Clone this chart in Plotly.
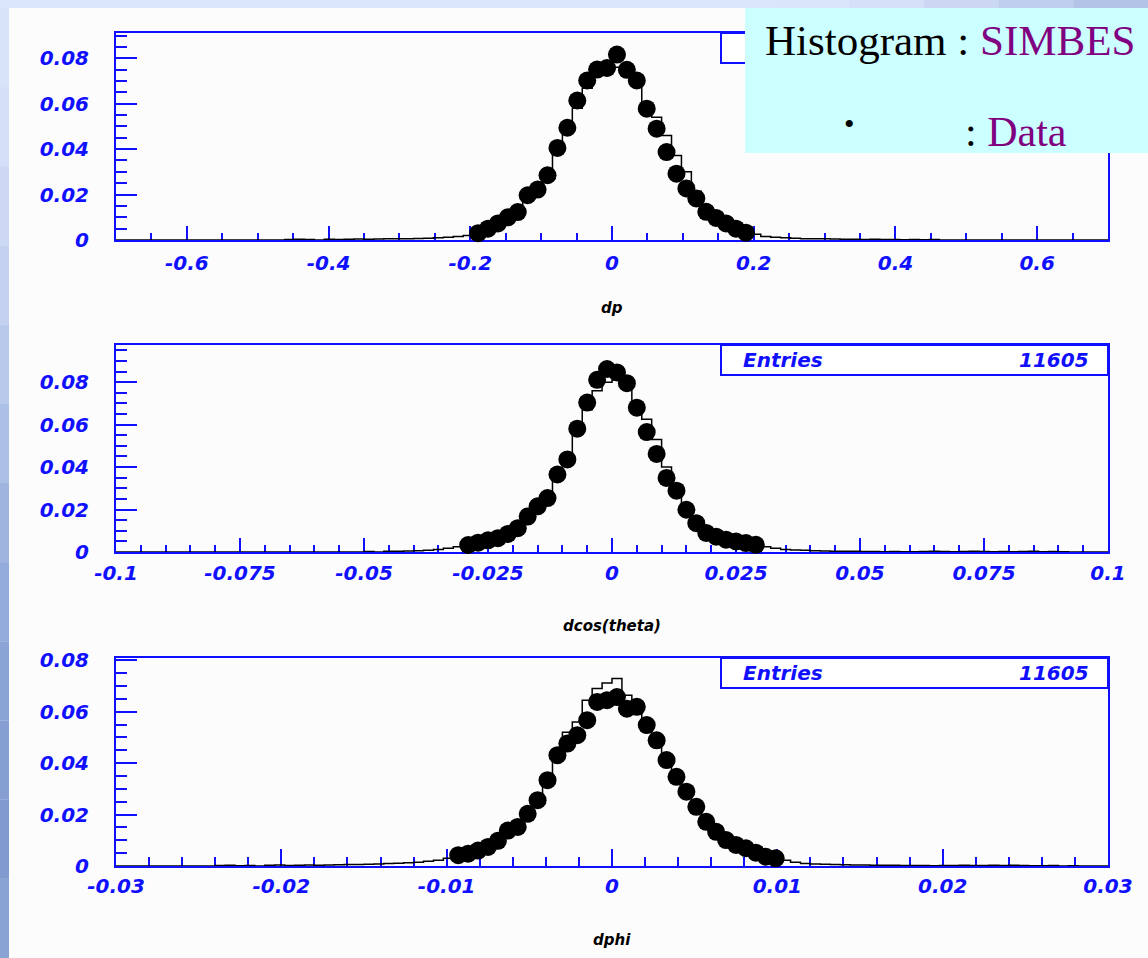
import numpy as np
import plotly.graph_objects as go

W, H = 1148, 958
BLUE = "#1010ff"

# ---------------- data ----------------
# panel 1 : dp   (100 bins on [-0.7, 0.7])
dp_range = (-0.7, 0.7)
dp_nbins = 100
dp_pts_first = 36
dp_pts = [0.0030, 0.0050, 0.0073, 0.0100, 0.0123, 0.0197, 0.0222, 0.0285, 0.0405, 0.0494,
          0.0614, 0.0702, 0.0750, 0.0757, 0.0816, 0.0749, 0.0702, 0.0578, 0.0490, 0.0387,
          0.0292, 0.0227, 0.0183, 0.0124, 0.0097, 0.0073, 0.0050, 0.0032]
dp_hist_first = 17
dp_hist = [0.0002, 0.0003, 0.0002, 0.0, 0.0003, 0.0002, 0.0003, 0.0004, 0.0003, 0.0004,
           0.0005, 0.0005, 0.0006, 0.0007, 0.0008, 0.0010, 0.0012, 0.0015, 0.0020,
           0.0030, 0.0048, 0.0070, 0.0098, 0.0125, 0.0180, 0.0225, 0.0290, 0.0400, 0.0500,
           0.0580, 0.0668, 0.0730, 0.0745, 0.0760, 0.0740, 0.0690, 0.0590, 0.0540, 0.0460,
           0.0372, 0.0300, 0.0215, 0.0150, 0.0110, 0.0080, 0.0058, 0.0040,
           0.0025, 0.0015, 0.0012, 0.0010, 0.0008, 0.0006, 0.0005, 0.0005, 0.0004, 0.0003,
           0.0003, 0.0002, 0.0003, 0.0002, 0.0002, 0.0001, 0.0002, 0.0001, 0.0002]

# panel 2 : dcos(theta)   (100 bins on [-0.1, 0.1])
dc_range = (-0.1, 0.1)
dc_nbins = 100
dc_pts_first = 35
dc_pts = [0.0033, 0.0044, 0.0055, 0.0065, 0.0085, 0.0112, 0.0167, 0.0215, 0.0254, 0.0365,
          0.0436, 0.0581, 0.0704, 0.0811, 0.0862, 0.0846, 0.0795, 0.0680, 0.0565, 0.0462,
          0.0349, 0.0289, 0.0199, 0.0136, 0.0090, 0.0072, 0.0058, 0.0050, 0.0042, 0.0034]
dc_hist_first = 25
dc_hist = [0.0002, 0.0, 0.0003, 0.0004, 0.0005, 0.0006, 0.0008, 0.0012, 0.0018, 0.0025,
           0.0035, 0.0042, 0.0052, 0.0063, 0.0085, 0.0115, 0.0160, 0.0210, 0.0260, 0.0360,
           0.0440, 0.0578, 0.0670, 0.0759, 0.0800, 0.0810, 0.0800, 0.0696, 0.0625, 0.0530,
           0.0400, 0.0300, 0.0215, 0.0150, 0.0100, 0.0080, 0.0062, 0.0052, 0.0043, 0.0035,
           0.0025, 0.0018, 0.0012, 0.0010, 0.0008, 0.0006, 0.0005, 0.0004, 0.0003, 0.0003,
           0.0002, 0.0002, 0.0001, 0.0002, 0.0001, 0.0001, 0.0002, 0.0003, 0.0002, 0.0001,
           0.0002, 0.0003, 0.0002, 0.0001, 0.0002, 0.0001, 0.0002, 0.0003, 0.0001, 0.0002,
           0.0001]

# panel 3 : dphi   (100 bins on [-0.03, 0.03])
dphi_range = (-0.03, 0.03)
dphi_nbins = 100
dphi_pts_first = 34
dphi_pts = [0.0042, 0.0048, 0.0060, 0.0074, 0.0098, 0.0138, 0.0152, 0.0203, 0.0256, 0.0334,
            0.0431, 0.0476, 0.0509, 0.0567, 0.0638, 0.0645, 0.0657, 0.0612, 0.0619, 0.0548,
            0.0489, 0.0412, 0.0347, 0.0289, 0.0230, 0.0172, 0.0133, 0.0101, 0.0082, 0.0069,
            0.0052, 0.0036, 0.0030]
dphi_hist_first = 10
dphi_hist = [0.0002, 0.0003, 0.0001, 0.0002, 0.0, 0.0003, 0.0004, 0.0002, 0.0003, 0.0004,
             0.0003, 0.0004, 0.0005, 0.0006, 0.0006, 0.0007, 0.0008, 0.0010, 0.0011, 0.0013,
             0.0015, 0.0018, 0.0022, 0.0030,
             0.0040, 0.0046, 0.0058, 0.0072, 0.0098, 0.0130, 0.0155, 0.0200, 0.0262, 0.0330,
             0.0420, 0.0520, 0.0560, 0.0645, 0.0690, 0.0712, 0.0729, 0.0664, 0.0630, 0.0560,
             0.0490, 0.0410, 0.0335, 0.0270, 0.0210, 0.0160, 0.0125, 0.0095, 0.0075, 0.0058,
             0.0045, 0.0035, 0.0025,
             0.0022, 0.0015, 0.0010, 0.0008, 0.0007, 0.0006, 0.0005, 0.0004, 0.0004, 0.0003,
             0.0003, 0.0003, 0.0002, 0.0002, 0.0002, 0.0001, 0.0002, 0.0002, 0.0003, 0.0002,
             0.0002, 0.0003, 0.0002, 0.0003, 0.0002, 0.0001, 0.0001, 0.0002, 0.0, 0.0001,
             0.0, 0.0, 0.0]

entries = "11605"
titles = ["dp", "dcos(theta)", "dphi"]
y_ticks = [0, 0.02, 0.04, 0.06, 0.08]
y_ticktext = ["0", "0.02", "0.04", "0.06", "0.08"]
dp_xticks = [-0.6, -0.4, -0.2, 0, 0.2, 0.4, 0.6]
dp_xtext = ["-0.6", "-0.4", "-0.2", "0", "0.2", "0.4", "0.6"]
dc_xticks = [-0.1, -0.075, -0.05, -0.025, 0, 0.025, 0.05, 0.075, 0.1]
dc_xtext = ["-0.1", "-0.075", "-0.05", "-0.025", "0", "0.025", "0.05", "0.075", "0.1"]
dphi_xticks = [-0.03, -0.02, -0.01, 0, 0.01, 0.02, 0.03]
dphi_xtext = ["-0.03", "-0.02", "-0.01", "0", "0.01", "0.02", "0.03"]


# ---------------- helpers ----------------
def px(x):
    return x / W


def py(y):
    return 1 - y / H


def bins(rng, n):
    edges = np.linspace(rng[0], rng[1], n + 1)
    centers = 0.5 * (edges[:-1] + edges[1:])
    return edges, centers


def full_hist(n, first, vals):
    arr = np.zeros(n)
    vals = np.asarray(vals, dtype=float)[: max(0, n - first)]
    arr[first:first + len(vals)] = vals
    return arr


fig = go.Figure()

panels = [
    dict(rng=dp_range, n=dp_nbins, pf=dp_pts_first, pts=dp_pts, hf=dp_hist_first, hist=dp_hist,
         ymax=0.0911, top=33, bot=240, xt=dp_xticks, xtt=dp_xtext, minor=0.05,
         xlen=14, xmlen=7, title_y=308, xstand=4),
    dict(rng=dc_range, n=dc_nbins, pf=dc_pts_first, pts=dc_pts, hf=dc_hist_first, hist=dc_hist,
         ymax=0.0975, top=345, bot=552, xt=dc_xticks, xtt=dc_xtext, minor=0.005,
         xlen=14, xmlen=7, title_y=626, xstand=2),
    dict(rng=dphi_range, n=dphi_nbins, pf=dphi_pts_first, pts=dphi_pts, hf=dphi_hist_first,
         hist=dphi_hist, ymax=0.0809, top=658, bot=866, xt=dphi_xticks, xtt=dphi_xtext,
         minor=0.002, xlen=17, xmlen=9, title_y=940, xstand=1),
]

tickfont = dict(family="DejaVu Sans", size=20, color=BLUE, weight="bold", style="italic")
x_dom = [px(116), px(1108)]

layout_axes = {}
annotations = []
shapes = []

# background: white panel and left/top gradient strips
shapes.append(dict(type="rect", xref="paper", yref="paper", x0=px(9), x1=1, y0=0, y1=py(8),
                   fillcolor="#fcfcfc", line=dict(width=0), layer="below"))
strip_cols = ["#d8e2f9", "#d4dff7", "#cdd9f4", "#c4d2f0", "#b8c9eb", "#acbfe6",
              "#9fb5e0", "#94acdb", "#8aa4d6", "#859fd2", "#7f9bd0", "#8aa3d5"]
nst = len(strip_cols)
for i, c in enumerate(strip_cols):
    y0 = 8 + (H - 8) * i / nst
    y1 = 8 + (H - 8) * (i + 1) / nst
    shapes.append(dict(type="rect", xref="paper", yref="paper", x0=0, x1=px(9),
                       y0=py(y1), y1=py(y0), fillcolor=c, line=dict(width=0), layer="below"))
top_cols = ["#dbe5fb", "#dae4fa", "#d6e0f8", "#ccd8f3", "#bfcdee", "#b3c3e8"]
for i, c in enumerate(top_cols):
    x0 = 700 + (W - 700) * i / len(top_cols)
    x1 = 700 + (W - 700) * (i + 1) / len(top_cols)
    shapes.append(dict(type="rect", xref="paper", yref="paper", x0=px(x0), x1=px(x1),
                       y0=py(8), y1=1, fillcolor=c, line=dict(width=0), layer="below"))

for i, p in enumerate(panels):
    idx = "" if i == 0 else str(i + 1)
    xa = "x" + idx
    ya = "y" + idx
    edges, centers = bins(p["rng"], p["n"])
    h = full_hist(p["n"], p["hf"], p["hist"])
    fig.add_trace(go.Scatter(x=edges, y=np.append(h, h[-1]), mode="lines",
                             line=dict(color="black", width=1.5, shape="hv"),
                             xaxis=xa, yaxis=ya, hoverinfo="skip", showlegend=False))
    pts = np.asarray(p["pts"])
    fig.add_trace(go.Scatter(x=centers[p["pf"]:p["pf"] + len(pts)], y=pts, mode="markers",
                             marker=dict(color="black", size=18, line=dict(width=0)),
                             cliponaxis=False, xaxis=xa, yaxis=ya, showlegend=False))
    y_dom = [py(p["bot"]), py(p["top"])]
    layout_axes["xaxis" + idx] = dict(
        domain=x_dom, range=list(p["rng"]), anchor=ya, automargin=False,
        tickmode="array", tickvals=p["xt"], ticktext=p["xtt"],
        ticks="inside", ticklen=p["xlen"], tickwidth=1.5, tickcolor=BLUE,
        minor=dict(tickmode="linear", tick0=0, dtick=p["minor"], ticks="inside",
                   ticklen=p["xmlen"], tickwidth=1.5, tickcolor=BLUE),
        showline=True, linecolor=BLUE, linewidth=2, mirror=True,
        showgrid=False, zeroline=False, tickfont=tickfont, layer="below traces",
        ticklabelstandoff=p["xstand"], fixedrange=True)
    layout_axes["yaxis" + idx] = dict(
        domain=y_dom, range=[0, p["ymax"]], anchor=xa, automargin=False,
        tickmode="array", tickvals=y_ticks, ticktext=y_ticktext,
        ticks="inside", ticklen=21, tickwidth=1.5, tickcolor=BLUE,
        minor=dict(tickmode="linear", tick0=0, dtick=0.005, ticks="inside",
                   ticklen=11, tickwidth=1.5, tickcolor=BLUE),
        showline=True, linecolor=BLUE, linewidth=2, mirror=True,
        showgrid=False, zeroline=False, tickfont=tickfont, layer="below traces",
        ticklabelstandoff=21, fixedrange=True)
    # axis title
    annotations.append(dict(text=titles[i], xref="paper", yref="paper", x=px(612),
                            y=py(p["title_y"]), xanchor="center", yanchor="middle",
                            showarrow=False,
                            font=dict(family="DejaVu Sans", size=15, color="black",
                                      weight="bold", style="italic")))
    # stats box
    shapes.append(dict(type="rect", xref="paper", yref="paper", x0=px(721), x1=px(1108),
                       y0=py(p["top"] + 30), y1=py(p["top"]), fillcolor="white",
                       line=dict(color=BLUE, width=2), layer="above"))
    if i > 0:
        sfont = dict(family="DejaVu Sans", size=20, color=BLUE, weight="bold", style="italic")
        annotations.append(dict(text="Entries", xref="paper", yref="paper", x=px(741),
                                y=py(p["top"] + 15), xanchor="left", yanchor="middle",
                                showarrow=False, font=sfont))
        annotations.append(dict(text=entries, xref="paper", yref="paper", x=px(1091),
                                y=py(p["top"] + 15), xanchor="right", yanchor="middle",
                                showarrow=False, font=sfont))

# cyan legend box
shapes.append(dict(type="rect", xref="paper", yref="paper", x0=px(745), x1=1,
                   y0=py(153), y1=py(8), fillcolor="#ccffff", line=dict(width=0),
                   layer="above"))
serif = dict(family="Liberation Serif", size=43, color="black")
annotations.append(dict(text="Histogram : <span style='color:#800080'>SIMBES</span>",
                        xref="paper", yref="paper", x=px(763), y=py(41), xanchor="left",
                        yanchor="middle", showarrow=False, font=serif))
annotations.append(dict(text="•", xref="paper", yref="paper", x=px(849), y=py(124),
                        xanchor="center", yanchor="middle", showarrow=False,
                        font=dict(family="Liberation Serif", size=30, color="black")))
annotations.append(dict(text=": <span style='color:#800080'>Data</span>",
                        xref="paper", yref="paper", x=px(963), y=py(132), xanchor="left",
                        yanchor="middle", showarrow=False,
                        font=dict(family="Liberation Serif", size=42, color="black")))

fig.update_layout(
    width=W, height=H, margin=dict(l=0, r=0, t=0, b=0, pad=0, autoexpand=False),
    paper_bgcolor="#dbe5fb", plot_bgcolor="#fcfcfc",
    showlegend=False, shapes=shapes, annotations=annotations,
    **layout_axes)

fig.write_html("out.html", config={"displayModeBar": False})
